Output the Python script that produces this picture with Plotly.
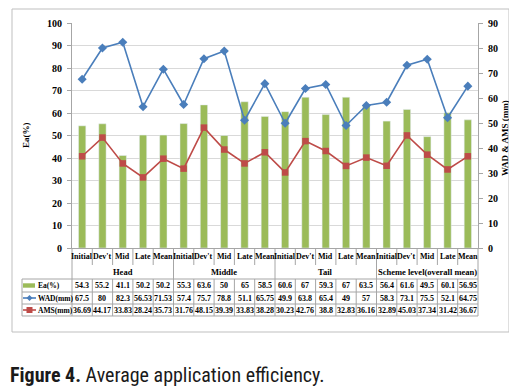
import plotly.graph_objects as go

categories = ["Initial", "Dev't", "Mid", "Late", "Mean"] * 4
groups = ["Head", "Middle", "Tail", "Scheme level(overall mean)"]
ea = [54.3, 55.2, 41.1, 50.2, 50.2, 55.3, 63.6, 50, 65, 58.5,
      60.6, 67, 59.3, 67, 63.5, 56.4, 61.6, 49.5, 60.1, 56.95]
wad = [67.5, 80, 82.3, 56.53, 71.53, 57.4, 75.7, 78.8, 51.1, 65.75,
       49.9, 63.8, 65.4, 49, 57, 58.3, 73.1, 75.5, 52.1, 64.75]
ams = [36.69, 44.17, 33.83, 28.24, 35.73, 31.76, 48.15, 39.39, 33.83, 38.28,
       30.23, 42.76, 38.8, 32.83, 36.16, 32.89, 45.03, 37.34, 31.42, 36.67]
row_labels = ["Ea(%)", "WAD(mm)", "AMS(mm)"]

GREEN = "#9BBB59"
BLUE = "#4A7EBB"
RED = "#BE4B48"
GRID = "#D9D9D9"
LINE = "#A6A6A6"
SERIF = "Times New Roman, Liberation Serif, Tinos, serif"

# page body has an 8px default margin: work in window pixels and offset
OFF = 8
W, H = 517 - OFF, 389 - OFF
L, R, T, B = 72 - OFF, 478 - OFF, 23 - OFF, 248 - OFF
PW, PH = R - L, B - T
N = len(categories)

def px(xp):
    return (xp - OFF - L) / PW

def py(yp):
    return (B - (yp - OFF)) / PH

def cx(i):
    return (i + 0.5) / N

xs = list(range(N))

fig = go.Figure()
fig.add_trace(go.Bar(x=xs, y=ea, marker_color=GREEN, name="Ea(%)", width=0.36))
fig.add_trace(go.Scatter(x=xs, y=wad, yaxis="y2", mode="lines+markers", name="WAD(mm)",
                         line=dict(color=BLUE, width=1.6),
                         marker=dict(symbol="diamond", size=7, color=BLUE)))
fig.add_trace(go.Scatter(x=xs, y=ams, yaxis="y2", mode="lines+markers", name="AMS(mm)",
                         line=dict(color=RED, width=1.6),
                         marker=dict(symbol="square", size=6.5, color=RED)))

tickfont = dict(family=SERIF, size=10, color="#000", weight="bold")
fig.update_layout(
    width=W, height=H, showlegend=False,
    margin=dict(l=L, r=W - R, t=T, b=H - B, pad=0, autoexpand=False),
    paper_bgcolor="white", plot_bgcolor="white",
    xaxis=dict(range=[-0.5, N - 0.5], showticklabels=False, showgrid=False,
               zeroline=False, showline=True, linecolor=LINE, linewidth=1, ticks=""),
    yaxis=dict(range=[0, 100], dtick=10, showgrid=True, gridcolor=GRID, gridwidth=1,
               zeroline=False, showline=True, linecolor=LINE, ticks="outside", ticklen=4,
               tickcolor=LINE, tickfont=tickfont, ticklabelstandoff=3),
    yaxis2=dict(range=[0, 90], dtick=10, overlaying="y", side="right", showgrid=False,
                zeroline=False, showline=True, linecolor=LINE, ticks="outside", ticklen=4,
                tickcolor=LINE, tickfont=tickfont, ticklabelstandoff=3),
)

shapes = []
ann = []
segs = []

def fnt(size):
    return dict(family=SERIF, size=size, color="#000", weight="bold")

def hline(x0, x1, y):
    segs.append(f"M {x0:.5f} {py(y):.5f} L {x1:.5f} {py(y):.5f}")

def vline(x, y0, y1):
    segs.append(f"M {x:.5f} {py(y0):.5f} L {x:.5f} {py(y1):.5f}")

Y_AX, Y_CAT, Y_GRP, Y_R1, Y_R2, Y_R3 = 248, 265, 279, 292, 304, 316
for i in range(N + 1):
    xb = i / N
    is_group = i % 5 == 0
    vline(xb, Y_AX, Y_GRP if is_group else Y_CAT)
    vline(xb, Y_GRP, Y_R3)
vline(px(22), Y_GRP, Y_R3)
for y in [Y_GRP, Y_R1, Y_R2, Y_R3]:
    hline(px(22), 1, y)
shapes.append(dict(type="path", xref="paper", yref="paper", path=" ".join(segs),
                   line=dict(color=LINE, width=1)))

for i, c in enumerate(categories):
    ann.append(dict(x=cx(i), y=py((Y_AX + Y_CAT) / 2), xref="paper", yref="paper", text=c,
                    xanchor="center", yanchor="middle", showarrow=False, font=fnt(8)))
for g, name in enumerate(groups):
    ann.append(dict(x=cx(g * 5 + 2), y=py((Y_CAT + Y_GRP) / 2), xref="paper", yref="paper",
                    text=name, xanchor="center", yanchor="middle", showarrow=False,
                    font=fnt(8.5)))
rows = [(ea, Y_GRP, Y_R1), (wad, Y_R1, Y_R2), (ams, Y_R2, Y_R3)]
for vals, y0, y1 in rows:
    for i, v in enumerate(vals):
        ann.append(dict(x=cx(i), y=py((y0 + y1) / 2), xref="paper", yref="paper",
                        text=f"{v:g}", xanchor="center", yanchor="middle",
                        showarrow=False, font=fnt(8)))

for lab, (vals, y0, y1) in zip(row_labels, rows):
    yc = (y0 + y1) / 2
    ann.append(dict(x=px(36), y=py(yc), xref="paper", yref="paper", text=lab,
                    xanchor="left", yanchor="middle", showarrow=False, font=fnt(7.5)))
shapes.append(dict(type="rect", xref="paper", yref="paper", x0=px(23), x1=px(35),
                   y0=py((Y_GRP + Y_R1) / 2 - 2.2), y1=py((Y_GRP + Y_R1) / 2 + 2.2),
                   fillcolor=GREEN, line=dict(width=0)))
for color, (y0, y1), sym in [(BLUE, (Y_R1, Y_R2), "d"), (RED, (Y_R2, Y_R3), "s")]:
    yc = (y0 + y1) / 2
    shapes.append(dict(type="line", xref="paper", yref="paper", x0=px(23), x1=px(36),
                       y0=py(yc), y1=py(yc), line=dict(color=color, width=1.6)))
    mx = 29.5
    if sym == "d":
        path = (f"M {px(mx)} {py(yc-3)} L {px(mx+3)} {py(yc)} L {px(mx)} {py(yc+3)} "
                f"L {px(mx-3)} {py(yc)} Z")
    else:
        path = (f"M {px(mx-3)} {py(yc-3)} L {px(mx+3)} {py(yc-3)} L {px(mx+3)} {py(yc+3)} "
                f"L {px(mx-3)} {py(yc+3)} Z")
    shapes.append(dict(type="path", xref="paper", yref="paper", path=path,
                       fillcolor=color, line=dict(width=0)))

shapes.append(dict(type="rect", xref="paper", yref="paper", x0=px(12), x1=px(509),
                   y0=py(332), y1=py(9), line=dict(color="#BFBFBF", width=1)))

ann.append(dict(x=px(26), y=py(135), xref="paper", yref="paper", text="Ea(%)", textangle=-90,
                xanchor="center", yanchor="middle", showarrow=False, font=fnt(9)))
ann.append(dict(x=px(505), y=py(138), xref="paper", yref="paper", text="WAD & AMS (mm)",
                textangle=-90, xanchor="center", yanchor="middle", showarrow=False,
                font=fnt(9)))

ann.append(dict(x=px(8), y=py(375), xref="paper", yref="paper", xanchor="left",
                yanchor="middle",
                text="<b>Figure 4.</b> Average application efficiency.", showarrow=False,
                font=dict(family="Roboto Condensed, Liberation Sans Narrow, Roboto", size=20,
                          color="#1a1a1a")))

fig.update_layout(shapes=shapes, annotations=ann)
fig.write_html("out.html")
